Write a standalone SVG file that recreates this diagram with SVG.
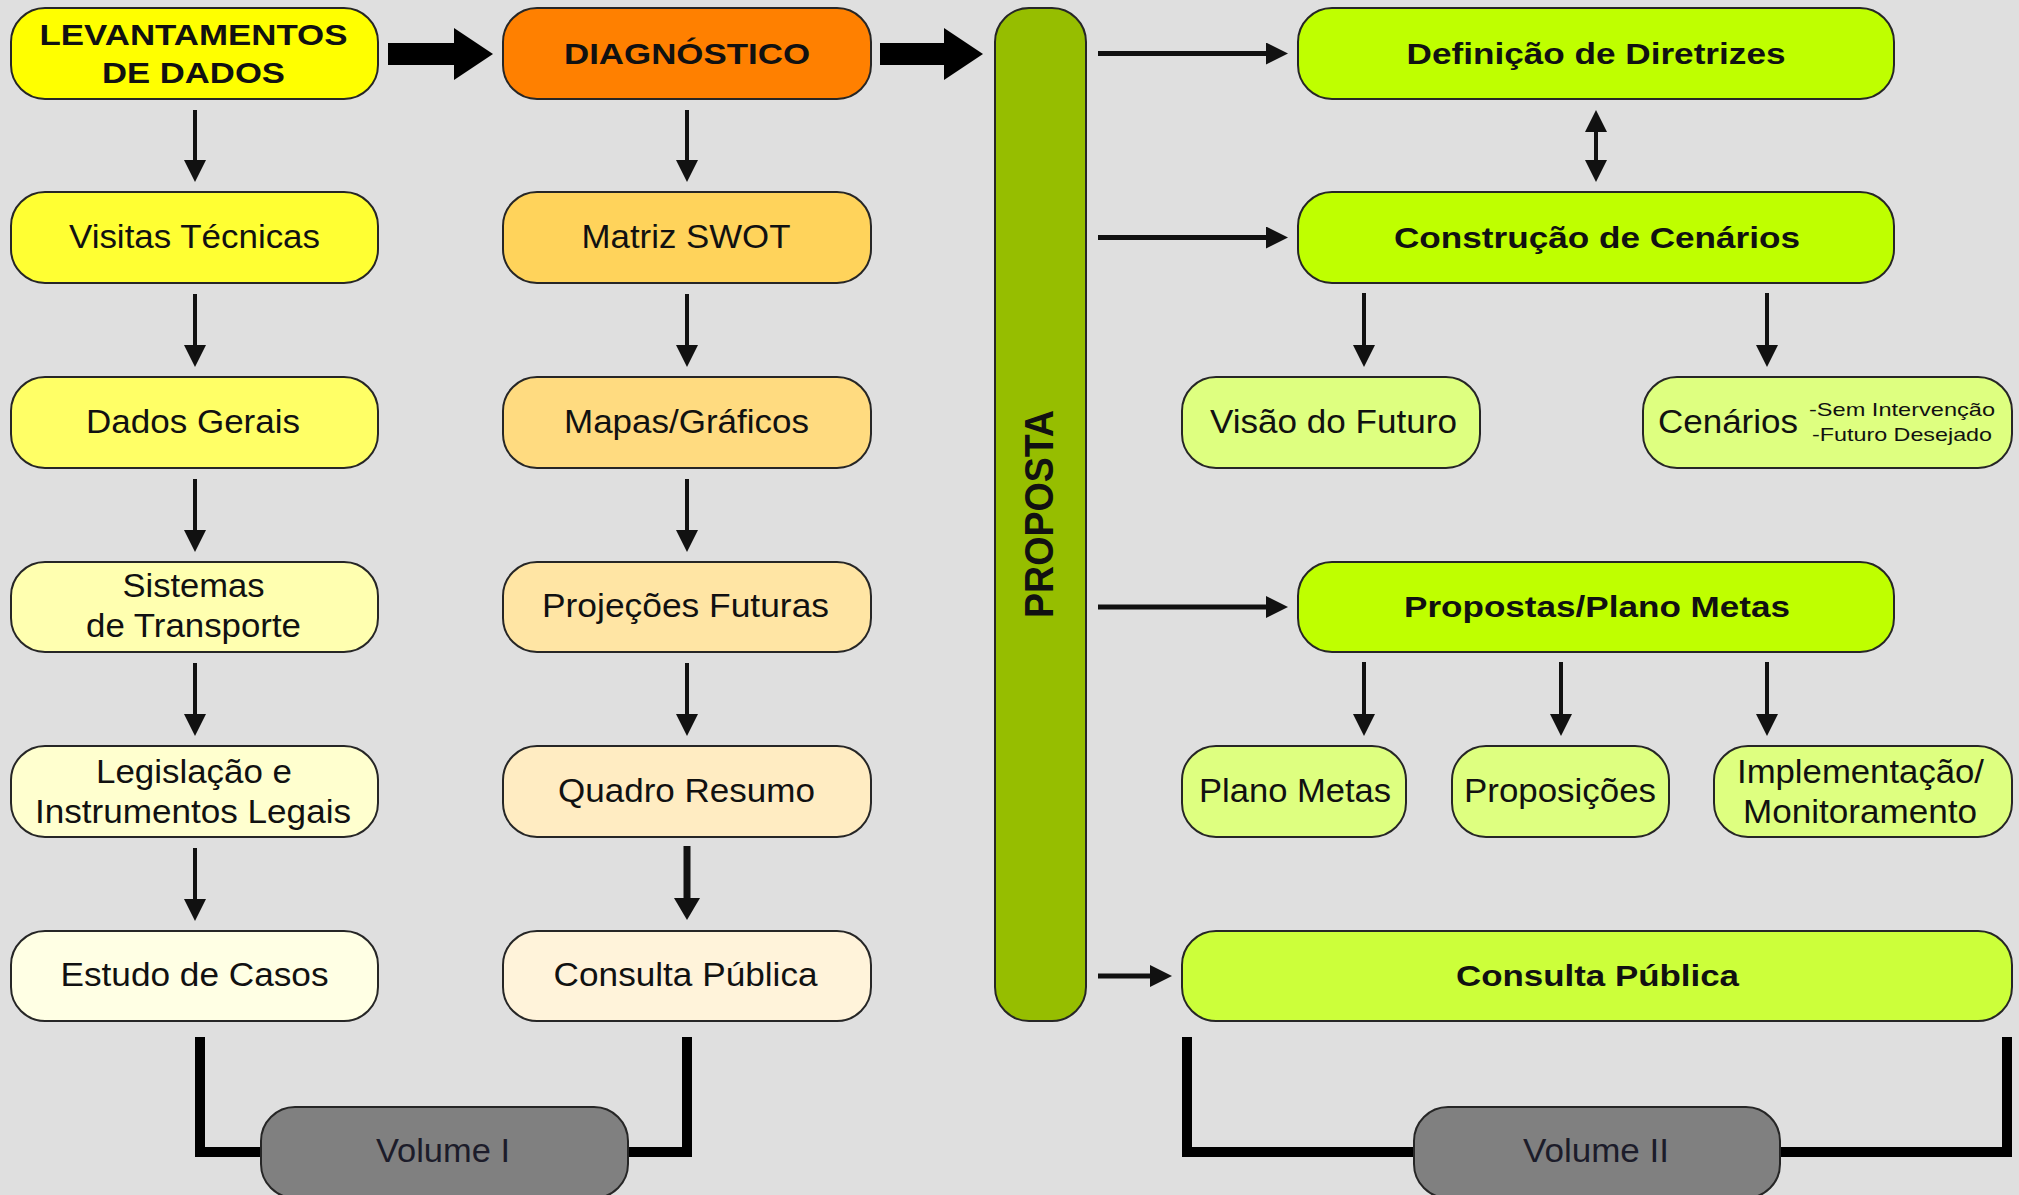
<svg xmlns="http://www.w3.org/2000/svg" width="2019" height="1195" viewBox="0 0 2019 1195">
<style>
.box{stroke:#262626;stroke-width:2}
.t{font-family:"Liberation Sans",Arial,sans-serif;font-size:34px;fill:#111;text-anchor:middle}
.b{font-family:"Liberation Sans",Arial,sans-serif;font-size:30px;font-weight:bold;fill:#111;text-anchor:middle}
.s{font-family:"Liberation Sans",Arial,sans-serif;font-size:19px;fill:#111}
.ln{stroke:#111;stroke-width:4;fill:none}
.lh{stroke:#111;stroke-width:5;fill:none}
.br{stroke:#000;stroke-width:10;fill:none}
.big{fill:#000}
</style>
<defs>
<marker id="ah" viewBox="0 0 22 22" refX="12" refY="11" markerWidth="22" markerHeight="22" orient="auto-start-reverse" markerUnits="userSpaceOnUse"><path d="M0,0 L22,11 L0,22 z" fill="#111"/></marker>
<marker id="ah2" viewBox="0 0 22 26" refX="10" refY="13" markerWidth="22" markerHeight="26" orient="auto" markerUnits="userSpaceOnUse"><path d="M0,0 L22,13 L0,26 z" fill="#111"/></marker>
</defs>
<rect x="0" y="0" width="2019" height="1195" fill="#DFDFDF"/>

<g id="connectors">
<polygon class="big" points="388,43 454,43 454,28 493,54 454,80 454,65 388,65"/>
<polygon class="big" points="880,43 944,43 944,28 983,54 944,80 944,65 880,65"/>
<g marker-end="url(#ah)">
<line class="ln" x1="195" y1="110" x2="195" y2="172"/>
<line class="ln" x1="195" y1="294" x2="195" y2="357"/>
<line class="ln" x1="195" y1="479" x2="195" y2="542"/>
<line class="ln" x1="195" y1="663" x2="195" y2="726"/>
<line class="ln" x1="195" y1="848" x2="195" y2="911"/>
<line class="ln" x1="687" y1="110" x2="687" y2="172"/>
<line class="ln" x1="687" y1="294" x2="687" y2="357"/>
<line class="ln" x1="687" y1="479" x2="687" y2="542"/>
<line class="ln" x1="687" y1="663" x2="687" y2="726"/>
<line class="lh" x1="1098" y1="53.5" x2="1278" y2="53.5"/>
<line class="lh" x1="1098" y1="237.5" x2="1278" y2="237.5"/>
<line class="lh" x1="1098" y1="607" x2="1278" y2="607"/>
<line class="lh" x1="1098" y1="976" x2="1162" y2="976"/>
<line class="ln" x1="1364" y1="293" x2="1364" y2="357"/>
<line class="ln" x1="1767" y1="293" x2="1767" y2="357"/>
<line class="ln" x1="1364" y1="662" x2="1364" y2="726"/>
<line class="ln" x1="1561" y1="662" x2="1561" y2="726"/>
<line class="ln" x1="1767" y1="662" x2="1767" y2="726"/>
</g>
<line class="ln" x1="1596" y1="120" x2="1596" y2="172" marker-start="url(#ah)" marker-end="url(#ah)"/>
<line x1="687" y1="846" x2="687" y2="908" stroke="#111" stroke-width="7" marker-end="url(#ah2)"/>
<polyline class="br" points="200,1037 200,1152 687,1152 687,1037"/>
<polyline class="br" points="1187,1037 1187,1152 2007,1152 2007,1037"/>
</g>

<g id="levantamentos"><rect class="box" x="11" y="8" width="367" height="91" rx="34" fill="#FFFF00"/>
<text class="b" x="193.5" y="45" textLength="308" lengthAdjust="spacingAndGlyphs">LEVANTAMENTOS</text>
<text class="b" x="193.5" y="83" textLength="183" lengthAdjust="spacingAndGlyphs">DE DADOS</text></g>
<g id="visitas"><rect class="box" x="11" y="192" width="367" height="91" rx="34" fill="#FFFF33"/>
<text class="t" x="194.5" y="248" textLength="251" lengthAdjust="spacingAndGlyphs">Visitas Técnicas</text></g>
<g id="dados"><rect class="box" x="11" y="377" width="367" height="91" rx="34" fill="#FFFF66"/>
<text class="t" x="193" y="433" textLength="214" lengthAdjust="spacingAndGlyphs">Dados Gerais</text></g>
<g id="sistemas"><rect class="box" x="11" y="562" width="367" height="90" rx="34" fill="#FFFFB0"/>
<text class="t" x="193.5" y="597" textLength="142" lengthAdjust="spacingAndGlyphs">Sistemas</text>
<text class="t" x="193.5" y="637" textLength="215" lengthAdjust="spacingAndGlyphs">de Transporte</text></g>
<g id="legislacao"><rect class="box" x="11" y="746" width="367" height="91" rx="34" fill="#FFFFCF"/>
<text class="t" x="194" y="783" textLength="196" lengthAdjust="spacingAndGlyphs">Legislação e</text>
<text class="t" x="193" y="823" textLength="316" lengthAdjust="spacingAndGlyphs">Instrumentos Legais</text></g>
<g id="estudo"><rect class="box" x="11" y="931" width="367" height="90" rx="34" fill="#FFFFE4"/>
<text class="t" x="194.5" y="986" textLength="268" lengthAdjust="spacingAndGlyphs">Estudo de Casos</text></g>

<g id="diagnostico"><rect class="box" x="503" y="8" width="368" height="91" rx="34" fill="#FF8000"/>
<text class="b" x="687" y="64" textLength="246" lengthAdjust="spacingAndGlyphs">DIAGNÓSTICO</text></g>
<g id="swot"><rect class="box" x="503" y="192" width="368" height="91" rx="34" fill="#FFD35B"/>
<text class="t" x="686" y="248" textLength="209" lengthAdjust="spacingAndGlyphs">Matriz SWOT</text></g>
<g id="mapas"><rect class="box" x="503" y="377" width="368" height="91" rx="34" fill="#FFDB80"/>
<text class="t" x="686.5" y="433" textLength="245" lengthAdjust="spacingAndGlyphs">Mapas/Gráficos</text></g>
<g id="projecoes"><rect class="box" x="503" y="562" width="368" height="90" rx="34" fill="#FFE5A4"/>
<text class="t" x="685.5" y="617" textLength="287" lengthAdjust="spacingAndGlyphs">Projeções Futuras</text></g>
<g id="quadro"><rect class="box" x="503" y="746" width="368" height="91" rx="34" fill="#FFECC2"/>
<text class="t" x="686.5" y="802" textLength="257" lengthAdjust="spacingAndGlyphs">Quadro Resumo</text></g>
<g id="consulta1"><rect class="box" x="503" y="931" width="368" height="90" rx="34" fill="#FFF3DA"/>
<text class="t" x="685.6" y="986" textLength="264" lengthAdjust="spacingAndGlyphs">Consulta Pública</text></g>

<g id="proposta"><rect class="box" x="995" y="8" width="91" height="1013" rx="34" fill="#96BE00"/>
<text class="b" x="1053" y="514" transform="rotate(-90 1053 514)" style="font-size:40px" textLength="208" lengthAdjust="spacingAndGlyphs">PROPOSTA</text></g>

<g id="diretrizes"><rect class="box" x="1298" y="8" width="596" height="91" rx="34" fill="#BFFF00"/>
<text class="b" x="1596" y="64" textLength="379" lengthAdjust="spacingAndGlyphs">Definição de Diretrizes</text></g>
<g id="cenarios-constr"><rect class="box" x="1298" y="192" width="596" height="91" rx="34" fill="#BFFF00"/>
<text class="b" x="1597" y="248" textLength="406" lengthAdjust="spacingAndGlyphs">Construção de Cenários</text></g>
<g id="visao"><rect class="box" x="1182" y="377" width="298" height="91" rx="34" fill="#DEFF80"/>
<text class="t" x="1333.5" y="433" textLength="247" lengthAdjust="spacingAndGlyphs">Visão do Futuro</text></g>
<g id="cenarios"><rect class="box" x="1643" y="377" width="369" height="91" rx="34" fill="#DEFF80"/>
<text class="t" x="1658" y="433" style="text-anchor:start" textLength="140" lengthAdjust="spacingAndGlyphs">Cenários</text>
<text class="s" x="1809" y="416" textLength="186" lengthAdjust="spacingAndGlyphs">-Sem Intervenção</text>
<text class="s" x="1812" y="441" textLength="180" lengthAdjust="spacingAndGlyphs">-Futuro Desejado</text></g>
<g id="propostas"><rect class="box" x="1298" y="562" width="596" height="90" rx="34" fill="#BFFF00"/>
<text class="b" x="1597" y="617" textLength="386" lengthAdjust="spacingAndGlyphs">Propostas/Plano Metas</text></g>
<g id="plano"><rect class="box" x="1182" y="746" width="224" height="91" rx="34" fill="#DEFF80"/>
<text class="t" x="1295" y="802" textLength="192" lengthAdjust="spacingAndGlyphs">Plano Metas</text></g>
<g id="proposicoes"><rect class="box" x="1452" y="746" width="217" height="91" rx="34" fill="#DEFF80"/>
<text class="t" x="1560" y="802" textLength="192" lengthAdjust="spacingAndGlyphs">Proposições</text></g>
<g id="implementacao"><rect class="box" x="1714" y="746" width="298" height="91" rx="34" fill="#DEFF80"/>
<text class="t" x="1860.5" y="783" textLength="247" lengthAdjust="spacingAndGlyphs">Implementação/</text>
<text class="t" x="1860" y="823" textLength="234" lengthAdjust="spacingAndGlyphs">Monitoramento</text></g>
<g id="consulta2"><rect class="box" x="1182" y="931" width="830" height="90" rx="34" fill="#CCFF3A"/>
<text class="b" x="1597.5" y="986" textLength="283" lengthAdjust="spacingAndGlyphs">Consulta Pública</text></g>

<g id="volume1"><rect class="box" x="261" y="1107" width="367" height="91" rx="34" fill="#808080"/>
<text class="t" x="443" y="1162" style="fill:#1c1c2a" textLength="134" lengthAdjust="spacingAndGlyphs">Volume I</text></g>
<g id="volume2"><rect class="box" x="1414" y="1107" width="366" height="91" rx="34" fill="#808080"/>
<text class="t" x="1596" y="1162" style="fill:#1c1c2a" textLength="146" lengthAdjust="spacingAndGlyphs">Volume II</text></g>
</svg>
